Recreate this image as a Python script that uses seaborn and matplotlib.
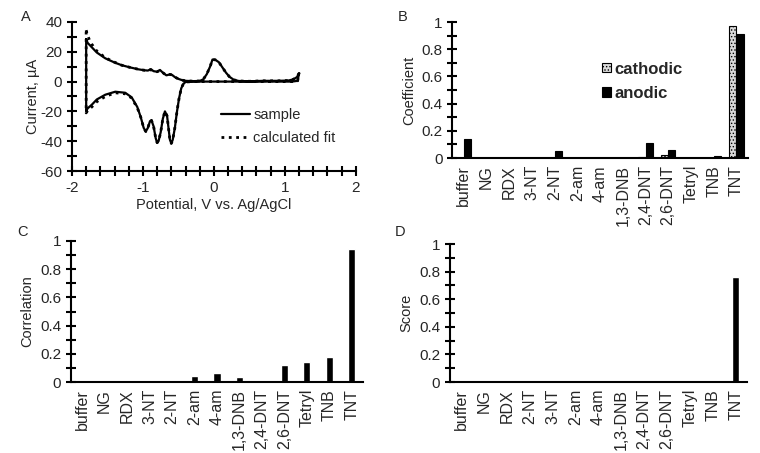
import pandas as pd
import matplotlib
matplotlib.use("Agg")
import matplotlib.pyplot as plt
from matplotlib.ticker import MultipleLocator
import seaborn as sns

# ---- panel A: cyclic voltammogram (V vs Ag/AgCl, current in uA)
fwd_v = [-1.80, -1.78, -1.75, -1.72, -1.65, -1.53, -1.40, -1.30, -1.18, -1.06, -0.98, -0.93,
         -0.89, -0.85, -0.80, -0.76, -0.72, -0.67, -0.62, -0.59, -0.55, -0.50, -0.45, -0.40,
         -0.30, -0.20, -0.15, -0.10, -0.05, -0.02, 0.02, 0.07, 0.12, 0.17, 0.22, 0.28,
         0.35, 0.50, 0.70, 0.90, 1.05, 1.12, 1.17, 1.20]
fwd_i = [28.5, 26.0, 24.5, 23.0, 19.5, 15.6, 12.8, 11.0, 9.5, 8.2, 7.6, 7.4,
         8.3, 7.0, 6.6, 7.8, 6.0, 4.2, 4.8, 4.5, 3.0, 1.8, 1.0, 0.5,
         0.3, 0.4, 1.5, 5.0, 10.5, 14.8, 14.6, 13.0, 9.5, 6.0, 3.2, 1.2,
         0.4, 0.2, 0.5, 0.5, 0.7, 1.5, 3.0, 5.5]
rev_v = [1.18, 1.10, 0.80, 0.40, 0.00, -0.30, -0.40, -0.43, -0.46, -0.49, -0.52, -0.55,
         -0.58, -0.60, -0.62, -0.64, -0.66, -0.69, -0.72, -0.75, -0.78, -0.80, -0.82, -0.85,
         -0.88, -0.90, -0.93, -0.96, -0.99, -1.03, -1.08, -1.16, -1.25, -1.39, -1.53, -1.65,
         -1.72, -1.78, -1.80, -1.80]
rev_i = [0.5, 0.0, 0.0, 0.0, 0.0, 0.0, -0.3, -1.5, -4.5, -11, -20, -31,
         -39, -41.5, -39, -31, -23, -20, -25, -34, -40, -41, -38, -30,
         -26, -26.5, -31, -33.5, -31, -24, -17, -10.5, -7.5, -6.8, -8.8, -12,
         -15.5, -18, -20, 28.5]
fit_fwd_i = [34.5, 31.0, 27.5, 25.0, 20.5, 16.0, 13.0, 11.0, 9.5, 8.2, 7.6, 7.4,
             8.0, 7.0, 6.6, 7.5, 6.0, 4.2, 4.8, 4.5, 3.0, 1.8, 1.0, 0.5,
             0.3, 0.4, 1.5, 5.0, 10.5, 14.8, 14.6, 13.0, 9.5, 6.0, 3.2, 1.2,
             0.4, 0.2, 0.5, 0.5, 0.7, 1.5, 3.0, 5.5]
fit_rev_i = [0.5, 0.0, 0.0, 0.0, 0.0, 0.0, -0.3, -1.5, -4.5, -11, -20, -31,
             -39, -41.5, -39, -31, -23, -20, -25, -34, -40, -41, -38, -30,
             -26, -26.5, -31, -33.5, -31, -24, -17.5, -11, -8.2, -7.5, -10, -13.5,
             -17, -19.5, -21, 34.5]

# ---- panels B-D
cats = ['buffer', 'NG', 'RDX', '3-NT', '2-NT', '2-am', '4-am', '1,3-DNB',
        '2,4-DNT', '2,6-DNT', 'Tetryl', 'TNB', 'TNT']
cats_d = ['buffer', 'NG', 'RDX', '2-NT', '3-NT', '2-am', '4-am', '1,3-DNB',
          '2,4-DNT', '2,6-DNT', 'Tetryl', 'TNB', 'TNT']
cathodic = [0, 0, 0, 0.002, 0, 0, 0, 0, 0.006, 0.025, 0, 0, 0.97]
anodic = [0.14, 0, 0, 0, 0.05, 0, 0, 0, 0.113, 0.062, 0, 0.015, 0.91]
correlation = [0, 0, 0, 0, 0, 0.04, 0.067, 0.035, 0, 0.123, 0.142, 0.177, 0.94]
score = [0, 0, 0, 0, 0, 0, 0, 0, 0, 0, 0, 0, 0.76]

sns.set_style("ticks")
plt.rcParams['font.family'] = ['Liberation Sans', 'DejaVu Sans']
plt.rcParams['hatch.linewidth'] = 0.6
plt.rcParams['axes.unicode_minus'] = False

fig = plt.figure(figsize=(7.6, 4.53), dpi=100)
axA = fig.add_axes([0.0947, 0.6225, 0.3735, 0.329])
axB = fig.add_axes([0.595, 0.651, 0.389, 0.3004])
axC = fig.add_axes([0.0934, 0.1567, 0.3842, 0.3113])
axD = fig.add_axes([0.592, 0.1567, 0.391, 0.3046])

TS = 11      # tick labels
LS = 10.5    # axis labels
CS = 11.5    # category labels


def style_axis(ax):
    for s in ['top', 'right']:
        ax.spines[s].set_visible(False)
    for s in ['left', 'bottom']:
        ax.spines[s].set_linewidth(1.5)
        ax.spines[s].set_color('black')


# A
samp_v = fwd_v + rev_v
samp_i = fwd_i + rev_i
fit_i = fit_fwd_i + fit_rev_i
sns.lineplot(x=samp_v, y=fit_i, sort=False, estimator=None, ax=axA, color='black',
             linestyle=':', linewidth=2.0, label='calculated fit')
sns.lineplot(x=samp_v, y=samp_i, sort=False, estimator=None, ax=axA, color='black',
             linewidth=1.6, label='sample')
axA.set_xlim(-2, 2)
axA.set_ylim(-60, 40)
axA.xaxis.set_major_locator(MultipleLocator(1))
axA.xaxis.set_minor_locator(MultipleLocator(0.2))
axA.yaxis.set_major_locator(MultipleLocator(20))
axA.yaxis.set_minor_locator(MultipleLocator(10))
axA.tick_params(which='both', direction='inout', length=7, width=1.5, labelsize=TS, color='black')
axA.set_xlabel('Potential, V vs. Ag/AgCl', fontsize=LS, labelpad=2)
axA.set_ylabel('Current, \u00b5A', fontsize=LS, labelpad=0)
style_axis(axA)
h, l = axA.get_legend_handles_labels()
axA.legend(h[::-1], l[::-1], loc='upper left', bbox_to_anchor=(0.5, 0.47), frameon=False,
           fontsize=LS, handlelength=2.0, handletextpad=0.2, labelspacing=0.6, borderpad=0)


def bar_axis(ax, ylabel):
    ax.set_ylim(0, 1)
    ax.set_xlim(-0.5, 12.5)
    ax.yaxis.set_major_locator(MultipleLocator(0.2))
    ax.yaxis.set_minor_locator(MultipleLocator(0.1))
    ax.yaxis.set_major_formatter(lambda v, p: f'{v:g}')
    ax.tick_params(axis='y', which='both', direction='inout', length=7, width=1.5,
                   labelsize=TS, color='black')
    ax.tick_params(axis='x', length=0, labelsize=CS, rotation=90, pad=5)
    ax.set_xlabel('')
    ax.set_ylabel(ylabel, fontsize=LS, labelpad=4)
    style_axis(ax)


# B
dfB = pd.DataFrame({'cat': cats * 2, 'val': cathodic + anodic,
                    'kind': ['cathodic'] * len(cats) + ['anodic'] * len(cats)})
sns.barplot(data=dfB, x='cat', y='val', hue='kind', order=cats, ax=axB,
            palette={'cathodic': '#d9d9d9', 'anodic': 'black'}, width=0.62, gap=0.0,
            edgecolor='black', linewidth=0.8, legend=False)
for p in axB.containers[0].patches:
    p.set_hatch('.....')
bar_axis(axB, 'Coefficient')
axB.legend([axB.containers[0].patches[0], axB.containers[1].patches[0]], ['cathodic', 'anodic'],
           loc='upper left', bbox_to_anchor=(0.48, 0.77), frameon=False,
           prop={'weight': 'bold', 'size': 12}, handlelength=0.5, handleheight=0.5,
           handletextpad=0.2, labelspacing=0.55, borderpad=0)

# C
sns.barplot(x=cats, y=correlation, order=cats, ax=axC, color='black', width=0.32)
bar_axis(axC, 'Correlation')

# D
sns.barplot(x=cats_d, y=score, order=cats_d, ax=axD, color='black', width=0.32)
bar_axis(axD, 'Score')

for t, x, y in [('A', 0.027, 0.963), ('B', 0.523, 0.963), ('C', 0.023, 0.488), ('D', 0.519, 0.488)]:
    fig.text(x, y, t, fontsize=LS, va='center', ha='left')

fig.savefig('out.png', dpi=100)
